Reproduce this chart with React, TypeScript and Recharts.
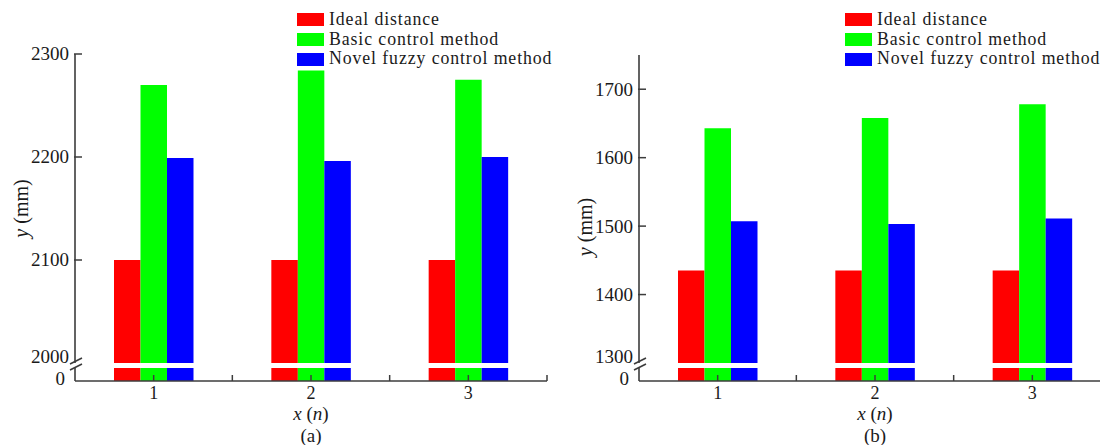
import { BarChart, Bar, XAxis, YAxis, Legend } from 'recharts';

const categories = ['1', '2', '3'];
const seriesNames = ['Ideal distance', 'Basic control method', 'Novel fuzzy control method'];
const seriesColors = ['#ff0000', '#00ff00', '#0000ff'];

// panel (a)
const idealA = [2100, 2100, 2100];
const basicA = [2270, 2284, 2275];
const fuzzyA = [2199, 2196, 2200];
const ticksA = [2000, 2100, 2200, 2300];

// panel (b)
const idealB = [1435, 1435, 1435];
const basicB = [1643, 1658, 1678];
const fuzzyB = [1507, 1503, 1511];
const ticksB = [1300, 1400, 1500, 1600, 1700];

const FONT = '"Liberation Serif", "Times New Roman", serif';
const AXIS = '#3c3c3c';
const TEXT = '#1a1a1a';

const PANEL_W = 564;
const AXIS_W = 75;
const PLOT_W = 472;
const RIGHT = PANEL_W - AXIS_W - PLOT_W;
const BREAK_Y = 363;
const TOP_PAD = 14; // room under the break so the lowest tick label isn't clipped
const STRIP_TOP = 368;
const AXIS_Y = 381;
const H = 445;

const build = (ideal: number[], basic: number[], fuzzy: number[]) =>
  categories.map((c, i) => ({ n: c, ideal: ideal[i], basic: basic[i], fuzzy: fuzzy[i] }));

const makeYTick = (min: number) => (props: any) => {
  const { x, y, payload } = props;
  const isMin = payload.value === min;
  return (
    <g>
      {!isMin && <line x1={x - 1} x2={x + 7} y1={y} y2={y} stroke={AXIS} strokeWidth={1.5} />}
      <text
        x={x - 6}
        y={isMin ? y - 6 : y}
        dy="0.34em"
        textAnchor="end"
        fontSize={19}
        fill={TEXT}
        fontFamily={FONT}
      >
        {payload.value}
      </text>
    </g>
  );
};

const ZeroTick = (props: any) => {
  const { x, y, payload } = props;
  return (
    <text x={x - 10} y={y - 2} dy="0.34em" textAnchor="end" fontSize={19} fill={TEXT} fontFamily={FONT}>
      {payload.value}
    </text>
  );
};

const XTick = (props: any) => {
  const { x, y, payload, index } = props;
  const half = PLOT_W / categories.length / 2;
  const mark = (px: number) => (
    <line x1={px} x2={px} y1={y} y2={y - 6} stroke={AXIS} strokeWidth={1.5} />
  );
  return (
    <g>
      {mark(x)}
      {index > 0 && mark(x - half)}
      {index === categories.length - 1 && mark(x + half)}
      <text x={x} y={y + 18} textAnchor="middle" fontSize={18} fill={TEXT} fontFamily={FONT}>
        {payload.value}
      </text>
    </g>
  );
};

const LegendBox = ({ payload }: any) => {
  const items = [...(payload || [])].sort(
    (a: any, b: any) => seriesNames.indexOf(a.value) - seriesNames.indexOf(b.value)
  );
  return (
    <div style={{ fontFamily: FONT, fontSize: 17.8, letterSpacing: 0.9, color: TEXT }}>
      {items.map((p: any) => (
        <div
          key={p.value}
          style={{ display: 'flex', alignItems: 'center', height: 19.7, whiteSpace: 'nowrap' }}
        >
          <span style={{ width: 27, height: 13, background: p.color, marginRight: 5, flex: 'none' }} />
          <span style={{ lineHeight: '19.7px' }}>{p.value}</span>
        </div>
      ))}
    </div>
  );
};

interface PanelProps {
  left: number;
  data: { n: string; ideal: number; basic: number; fuzzy: number }[];
  domain: [number, number];
  ticks: number[];
  plotTop: number;
  tag: string;
  legendLeft: number;
  yLabelShift: number;
}

const bars = (withNames: boolean) =>
  ['ideal', 'basic', 'fuzzy'].map((k, i) => (
    <Bar
      key={k}
      dataKey={k}
      name={withNames ? seriesNames[i] : undefined}
      fill={seriesColors[i]}
      isAnimationActive={false}
      legendType={withNames ? 'rect' : 'none'}
    />
  ));

const Panel = ({ left, data, domain, ticks, plotTop, tag, legendLeft, yLabelShift }: PanelProps) => (
  <div style={{ position: 'absolute', left, top: 0, width: PANEL_W, height: H }}>
    {/* lower strip: 0 .. break */}
    <div style={{ position: 'absolute', left: 0, top: 0 }}>
      <BarChart
        width={PANEL_W}
        height={H}
        data={data}
        margin={{ top: STRIP_TOP, right: RIGHT, bottom: 0, left: 0 }}
        barGap={0}
        barSize={26.5}
      >
        <XAxis
          dataKey="n"
          height={H - AXIS_Y}
          tickSize={0}
          tickMargin={0}
          tick={XTick}
          interval={0}
          stroke={AXIS}
          strokeWidth={1.6}
          label={{
            content: (p: any) => {
              const vb = p.viewBox || {};
              const cx = vb.x + vb.width / 2;
              return (
                <g fontFamily={FONT} fontSize={19} fill={TEXT}>
                  <text x={cx} y={AXIS_Y + 39} textAnchor="middle">
                    <tspan fontStyle="italic">x</tspan> (<tspan fontStyle="italic">n</tspan>)
                  </text>
                  <text x={cx} y={AXIS_Y + 60.5} textAnchor="middle">
                    {tag}
                  </text>
                </g>
              );
            },
          }}
        />
        <YAxis
          width={AXIS_W}
          domain={[0, 1]}
          ticks={[0]}
          interval={0}
          allowDataOverflow
          tickSize={0}
          tickMargin={0}
          tick={ZeroTick}
          stroke={AXIS}
          strokeWidth={1.6}
        />
        {bars(false)}
      </BarChart>
    </div>
    {/* upper part: break .. top */}
    <div style={{ position: 'absolute', left: 0, top: 0 }}>
      <BarChart
        width={PANEL_W}
        height={BREAK_Y + TOP_PAD}
        data={data}
        margin={{ top: plotTop, right: RIGHT, bottom: TOP_PAD, left: 0 }}
        barGap={0}
        barSize={26.5}
      >
        <XAxis dataKey="n" hide />
        <YAxis
          width={AXIS_W}
          domain={domain}
          ticks={ticks}
          interval={0}
          allowDataOverflow
          tickSize={0}
          tickMargin={0}
          tick={makeYTick(domain[0])}
          stroke={AXIS}
          strokeWidth={1.6}
          label={{
            content: (p: any) => {
              const vb = p.viewBox || {};
              const cx = vb.x + vb.width - 53;
              const cy = vb.y + vb.height / 2 + yLabelShift;
              return (
                <text
                  x={cx}
                  y={cy}
                  dy="0.3em"
                  textAnchor="middle"
                  transform={`rotate(-90, ${cx}, ${cy})`}
                  fontFamily={FONT}
                  fontSize={20}
                  fill={TEXT}
                >
                  <tspan fontStyle="italic">y</tspan> (mm)
                </text>
              );
            },
          }}
        />
        <Legend
          layout="vertical"
          align="center"
          verticalAlign="middle"
          content={LegendBox}
          wrapperStyle={{ top: 10, left: legendLeft, width: 320, height: 60 }}
        />
        {bars(true)}
      </BarChart>
    </div>
    {/* axis break marks */}
    <svg
      width={30}
      height={20}
      style={{ position: 'absolute', left: AXIS_W - 10, top: 355, overflow: 'visible' }}
    >
      <line x1={5} y1={9} x2={17} y2={3} stroke={AXIS} strokeWidth={1.6} />
      <line x1={5} y1={15} x2={17} y2={9} stroke={AXIS} strokeWidth={1.6} />
    </svg>
  </div>
);

export default function App() {
  return (
    <div
      style={{
        position: 'absolute',
        left: 0,
        top: 0,
        width: 1100,
        height: H,
        overflow: 'hidden',
        background: '#ffffff',
        fontFamily: FONT,
      }}
    >
      <Panel
        left={0}
        data={build(idealA, basicA, fuzzyA)}
        domain={[2000, 2300]}
        ticks={ticksA}
        plotTop={54}
        tag="(a)"
        legendLeft={297}
        yLabelShift={0}
      />
      <Panel
        left={564}
        data={build(idealB, basicB, fuzzyB)}
        domain={[1300, 1750]}
        ticks={ticksB}
        plotTop={55}
        tag="(b)"
        legendLeft={845 - 564}
        yLabelShift={18}
      />
    </div>
  );
}
